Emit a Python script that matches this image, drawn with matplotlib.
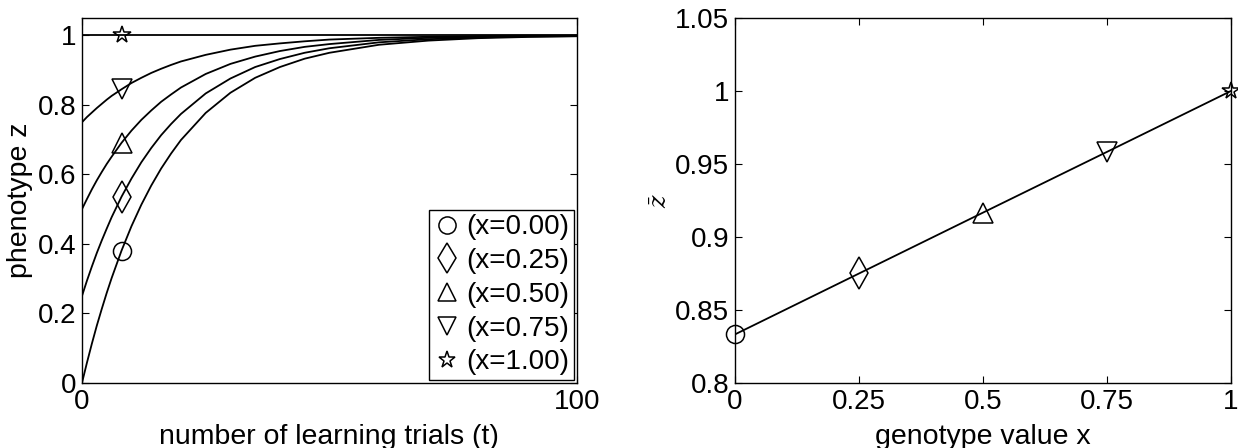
import numpy as np
import matplotlib
matplotlib.use('Agg')
import matplotlib.pyplot as plt

plt.rcParams['font.family'] = ['Liberation Sans', 'DejaVu Sans']
plt.rcParams['mathtext.fontset'] = 'dejavuserif'

# learning curves
t = [0, 1, 2, 3, 4, 5, 6, 8, 10, 12, 14, 16, 18, 20, 25, 30, 35, 40, 45, 50, 60, 70, 80, 90, 100]
z_x000 = [0.0, 0.058, 0.113, 0.165, 0.213, 0.259, 0.302, 0.381, 0.451, 0.513, 0.568, 0.617, 0.660,
          0.699, 0.777, 0.835, 0.878, 0.909, 0.933, 0.950, 0.973, 0.985, 0.992, 0.9955, 0.9975]
z_x025 = [0.25, 0.294, 0.335, 0.374, 0.410, 0.444, 0.477, 0.536, 0.588, 0.635, 0.676, 0.713, 0.745,
          0.774, 0.833, 0.876, 0.909, 0.932, 0.950, 0.963, 0.980, 0.989, 0.994, 0.997, 0.998]
z_x050 = [0.5, 0.529, 0.557, 0.583, 0.607, 0.630, 0.651, 0.691, 0.726, 0.757, 0.784, 0.809, 0.830,
          0.850, 0.889, 0.918, 0.939, 0.955, 0.967, 0.975, 0.987, 0.993, 0.996, 0.998, 0.999]
z_x075 = [0.75, 0.765, 0.778, 0.791, 0.803, 0.815, 0.826, 0.845, 0.863, 0.878, 0.892, 0.904, 0.915,
          0.925, 0.944, 0.959, 0.970, 0.977, 0.983, 0.988, 0.993, 0.996, 0.998, 0.999, 0.999]
z_x100 = [1.0] * len(t)
curves = [z_x000, z_x025, z_x050, z_x075, z_x100]
labels = ['(x=0.00)', '(x=0.25)', '(x=0.50)', '(x=0.75)', '(x=1.00)']
marker_idx = 7  # t = 8

# mean phenotype vs genotype (right panel)
genotype = [0, 0.25, 0.5, 0.75, 1.0]
zbar = [0.8333, 0.875, 0.9167, 0.9583, 1.0]

markers = ['o', 'd', '^', 'v', '*']
msizes = [13, 16, 14, 14, 13]

fig = plt.figure(figsize=(12.38, 4.48), dpi=100)
ax1 = fig.add_axes([0.0662, 0.1451, 0.3998, 0.8147])
ax2 = fig.add_axes([0.5937, 0.1451, 0.4006, 0.8147])

for z, m, ms, lab in zip(curves, markers, msizes, labels):
    ax1.plot(t, z, color='k', lw=1.3)
    ax1.plot(t[marker_idx], z[marker_idx], linestyle='none', marker=m, ms=ms,
             mfc='none', mec='k', mew=1.1, label=lab)

ax1.set_xlim(0, 100)
ax1.set_ylim(0, 1.05)
ax1.set_xticks([0, 100])
ax1.set_xticklabels(['0', '100'])
ax1.set_yticks([0, 0.2, 0.4, 0.6, 0.8, 1.0])
ax1.set_yticklabels(['0', '0.2', '0.4', '0.6', '0.8', '1'])
ax1.set_xlabel('number of learning trials (t)', fontsize=20.5)
ax1.set_ylabel('phenotype z', fontsize=20.5)
ax1.yaxis.set_label_coords(-0.099, 0.5)
ax1.xaxis.set_label_coords(0.5, -0.112)
leg = ax1.legend(loc='lower right', fontsize=20, frameon=True, fancybox=False,
                 edgecolor='k', framealpha=1, handlelength=1.0, handletextpad=0.2,
                 borderpad=0.15, labelspacing=0.28, borderaxespad=0.12, numpoints=1,
                 markerscale=0.95)
leg.get_frame().set_linewidth(1.0)

ax2.plot(genotype, zbar, color='k', lw=1.3)
for x, y, m, ms in zip(genotype, zbar, markers, msizes):
    ax2.plot(x, y, linestyle='none', marker=m, ms=ms, mfc='none', mec='k', mew=1.1,
             clip_on=False, zorder=5)
ax2.set_xlim(0, 1)
ax2.set_ylim(0.8, 1.05)
ax2.set_xticks([0, 0.25, 0.5, 0.75, 1])
ax2.set_xticklabels(['0', '0.25', '0.5', '0.75', '1'])
ax2.set_yticks([0.8, 0.85, 0.9, 0.95, 1.0, 1.05])
ax2.set_yticklabels(['0.8', '0.85', '0.9', '0.95', '1', '1.05'])
ax2.set_xlabel('genotype value x', fontsize=20.5)
ax2.xaxis.set_label_coords(0.5, -0.112)
ax2.set_ylabel(r'$\bar{z}$', fontsize=17, rotation=90)
ax2.yaxis.set_label_coords(-0.127, 0.5)

for ax in (ax1, ax2):
    ax.tick_params(direction='in', length=5, width=0.8, labelsize=20, top=True, right=True, pad=4)
    for s in ax.spines.values():
        s.set_linewidth(1.0)

plt.savefig('out.png', dpi=100)
